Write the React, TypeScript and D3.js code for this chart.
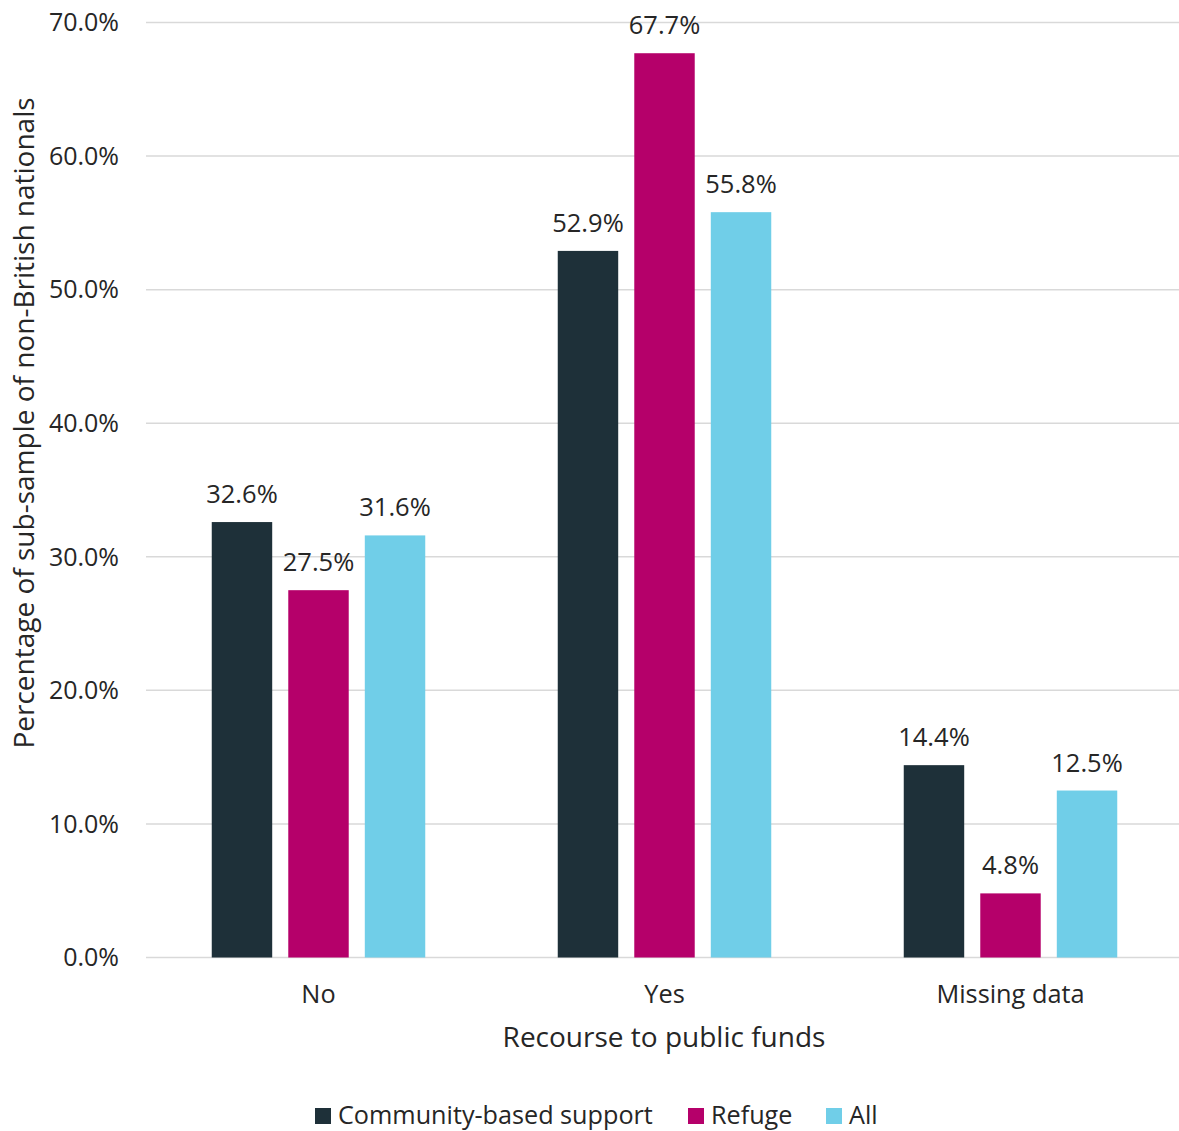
import React from "react";
import * as d3 from "d3";

const categories = ["No", "Yes", "Missing data"];
const seriesNames = ["Community-based support", "Refuge", "All"];
const communityValues = [32.6, 52.9, 14.4];
const refugeValues = [27.5, 67.7, 4.8];
const allValues = [31.6, 55.8, 12.5];
const yTicks = [0, 10, 20, 30, 40, 50, 60, 70];
const colors = ["#1e3039", "#b5006a", "#70cee8"];

const W = 1179;
const H = 1131;
const FONT = "'Open Sans', sans-serif";
const TEXT = "#262626";

export default function App() {
  const series = [communityValues, refugeValues, allValues];
  const x = d3.scaleBand<string>().domain(categories).range([145.5, 1183.5]);
  const y = d3.scaleLinear().domain([0, 70]).range([957.5, 22.5]);
  const groupW = 213.5;
  const inner = d3
    .scaleBand<number>()
    .domain([0, 1, 2])
    .range([0, groupW])
    .paddingInner(0.21)
    .paddingOuter(0);
  const bw = inner.bandwidth();

  const legendItems = [
    { name: seriesNames[0], sq: 315 },
    { name: seriesNames[1], sq: 688 },
    { name: seriesNames[2], sq: 826 },
  ];

  return (
    <svg
      width={W}
      height={H}
      style={{ position: "absolute", left: 0, top: 0, background: "#fff" }}
      fontFamily={FONT}
    >
      {yTicks.map((t) => (
        <g key={t}>
          <line x1={146} x2={W} y1={y(t)} y2={y(t)} stroke="#d9d9d9" strokeWidth={1.5} />
          <text x={119} y={y(t)} dy="0.35em" textAnchor="end" fontSize={25} fill={TEXT}>
            {t.toFixed(1) + "%"}
          </text>
        </g>
      ))}
      {categories.map((c, ci) => {
        const cx = (x(c) as number) + x.bandwidth() / 2;
        const gx = cx - groupW / 2;
        return (
          <g key={c}>
            {series.map((vals, si) => {
              const bx = gx + (inner(si) as number);
              const v = vals[ci];
              return (
                <g key={si}>
                  <rect x={bx} y={y(v)} width={bw} height={y(0) - y(v)} fill={colors[si]} />
                  <text
                    x={bx + bw / 2}
                    y={y(v) - 19}
                    textAnchor="middle"
                    fontSize={25.5}
                    fill={TEXT}
                  >
                    {v.toFixed(1) + "%"}
                  </text>
                </g>
              );
            })}
            <text x={cx} y={1003} textAnchor="middle" fontSize={25.3} fill={TEXT}>
              {c}
            </text>
          </g>
        );
      })}
      <text x={664} y={1047} textAnchor="middle" fontSize={28} fill={TEXT}>
        Recourse to public funds
      </text>
      <text
        transform={`translate(34, 423) rotate(-90)`}
        textAnchor="middle"
        fontSize={28}
        fill={TEXT}
      >
        Percentage of sub-sample of non-British nationals
      </text>
      {legendItems.map((l, i) => (
        <g key={l.name}>
          <rect x={l.sq} y={1108} width={16} height={16} fill={colors[i]} />
          <text x={l.sq + 23} y={1124} fontSize={25.2} fill={TEXT}>
            {l.name}
          </text>
        </g>
      ))}
    </svg>
  );
}
